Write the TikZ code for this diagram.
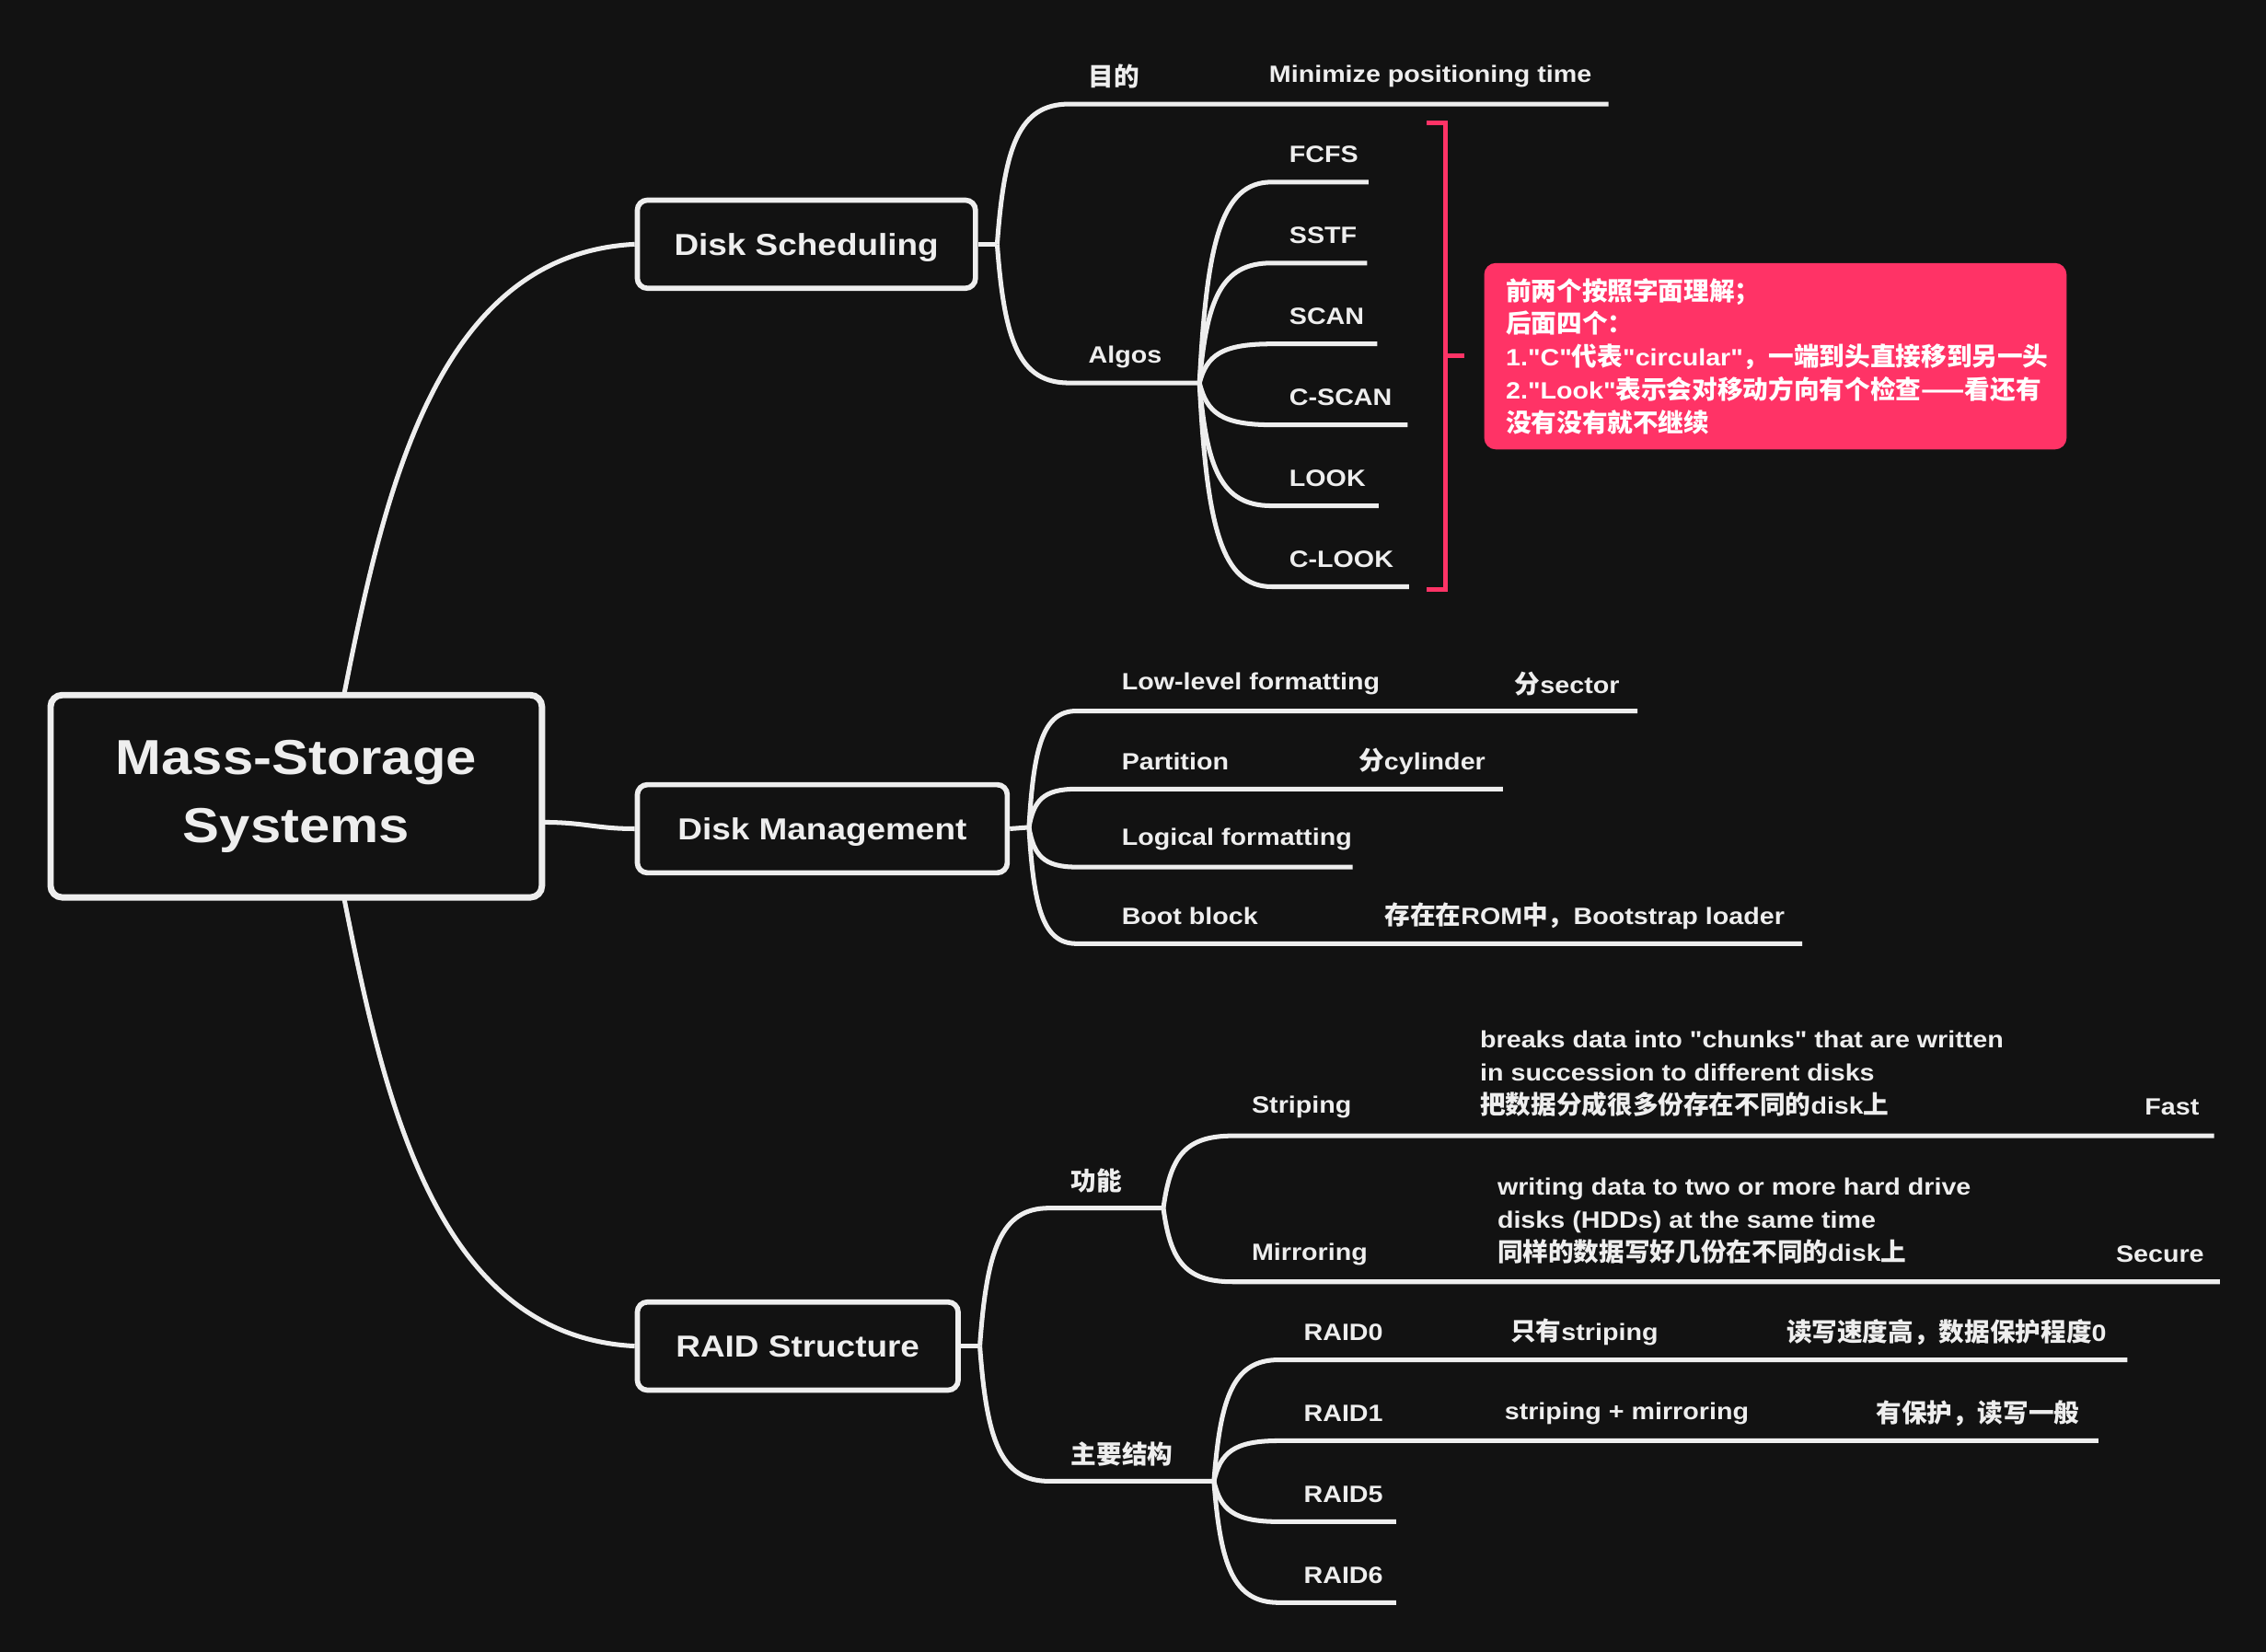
\documentclass[tikz,border=0pt]{standalone}
\usepackage{fontspec}
\setmainfont{Liberation Sans}[Ligatures=TeXOff, FakeStretch=1.12]
\newfontfamily\cjk{Noto Sans CJK SC}[Scale=1.08]
\usetikzlibrary{calc}
\definecolor{bg}{HTML}{121212}
\definecolor{lc}{HTML}{EEEEEE}
\definecolor{pk}{HTML}{FF3366}
\newcommand\zh[1]{{\cjk\bfseries #1}}
\newcommand\br[3]{\draw[conn] let \p1=(#1), \p2=(#2) in (\p1) .. controls ({\x1+0.1*(\x2-\x1)},{\y1+0.7*(\y2-\y1)}) and ({\x1+0.3*(\x2-\x1)},\y2) .. (\p2) -- (#3);}
\tikzset{
  conn/.style={draw=lc, line width=3.2pt},
  rootbox/.style={draw=lc, line width=4.4pt, rounded corners=8pt, fill=bg, text=lc, font=\bfseries\fontsize{34}{47}\selectfont, align=center, minimum width=340pt, minimum height=140pt, inner sep=0},
  topic/.style={draw=lc, line width=3.6pt, rounded corners=7pt, fill=bg, text=lc, font=\bfseries\fontsize{21}{26}\selectfont, inner sep=0, minimum height=61pt, text height=15pt, text depth=0pt},
  leaf/.style={text=lc, font=\bfseries\fontsize{16.3}{23}\selectfont, anchor=west, inner sep=0, align=left, yshift=-2pt},
  notebox/.style={fill=pk, rounded corners=8pt, text=white, font=\bfseries\fontsize{16.3}{22.8}\selectfont, align=left, text width=373pt, inner xsep=15pt, minimum height=129pt, inner ysep=0},
  brk/.style={draw=pk, line width=3pt}
}
\begin{document}
\begin{tikzpicture}[x=1pt,y=-1pt]
\fill[bg] (0,0) rectangle (1568,1143);
\useasboundingbox (0,0) rectangle (1568,1143);

% main topics
\node[rootbox] (root) at (205,551) {Mass-Storage\\Systems};
\node[topic, minimum width=234pt] (ds) at (558,169) {Disk Scheduling};
\node[topic, minimum width=256pt] (dm) at (569,573.5) {Disk Management};
\node[topic, minimum width=222pt] (rs) at (552,931.5) {RAID Structure};

\coordinate (rTop) at (238,481);
\coordinate (rBot) at (238,621);
\coordinate (rRight) at (375,569);
\draw[conn] (rTop) .. controls (266,340) and (302,176) .. (ds.west);
\draw[conn] (rBot) .. controls (266,762) and (302,924.5) .. (rs.west);
\draw[conn] (rRight) .. controls (405,569) and (412,573.5) .. (dm.west);

% Disk Scheduling
\coordinate (dsF) at (690,169);
\draw[conn] (ds.east) -- (dsF);
\coordinate (goalL) at (740,72); \coordinate (goalR) at (1113,72);
\coordinate (algL) at (740,265); \coordinate (algF) at (830,265);
\br{dsF}{goalL}{goalR}
\br{dsF}{algL}{algF}
\node[leaf] (goal) at (753,51) {\zh{目的}};
\node[leaf] (goaltxt) at (878,51) {Minimize positioning time};
\node[leaf] (algos) at (753,245) {Algos};

\coordinate (aL1) at (880,126); \coordinate (aR1) at (947,126);
\coordinate (aL2) at (880,182); \coordinate (aR2) at (946,182);
\coordinate (aL3) at (880,238); \coordinate (aR3) at (953,238);
\coordinate (aL4) at (880,294); \coordinate (aR4) at (974,294);
\coordinate (aL5) at (880,350); \coordinate (aR5) at (954,350);
\coordinate (aL6) at (880,406); \coordinate (aR6) at (975,406);
\br{algF}{aL1}{aR1}
\br{algF}{aL2}{aR2}
\br{algF}{aL3}{aR3}
\br{algF}{aL4}{aR4}
\br{algF}{aL5}{aR5}
\br{algF}{aL6}{aR6}
\node[leaf] (fcfs) at (892,105) {FCFS};
\node[leaf] (sstf) at (892,161) {SSTF};
\node[leaf] (scan) at (892,217) {SCAN};
\node[leaf] (cscan) at (892,273) {C-SCAN};
\node[leaf] (look) at (892,329) {LOOK};
\node[leaf] (clook) at (892,385) {C-LOOK};

% bracket and note
\draw[brk] (987,85) -- (1000,85) -- (1000,408) -- (987,408);
\draw[brk] (1000,246) -- (1013,246);
\node[notebox] (note) at (1228.5,246.5) {\zh{前两个按照字面理解；}\\\zh{后面四个：}\\1."C"\zh{代表}"circular"\zh{，一端到头直接移到另一头}\\2."Look"\zh{表示会对移动方向有个检查——看还有}\\\zh{没有没有就不继续}};

% Disk Management
\coordinate (dmF) at (712,572.5);
\draw[conn] (dm.east) -- (dmF);
\coordinate (mL1) at (745,492); \coordinate (mR1) at (1133,492);
\coordinate (mL2) at (745,546); \coordinate (mR2) at (1040,546);
\coordinate (mL3) at (745,600); \coordinate (mR3) at (936,600);
\coordinate (mL4) at (745,653); \coordinate (mR4) at (1247,653);
\br{dmF}{mL1}{mR1}
\br{dmF}{mL2}{mR2}
\br{dmF}{mL3}{mR3}
\br{dmF}{mL4}{mR4}
\node[leaf] (llf) at (776,471) {Low-level formatting};
\node[leaf] (llfn) at (1048,471) {\zh{分}sector};
\node[leaf] (part) at (776,525) {Partition};
\node[leaf] (partn) at (940,525) {\zh{分}cylinder};
\node[leaf] (logf) at (776,579) {Logical formatting};
\node[leaf] (boot) at (776,632) {Boot block};
\node[leaf] (bootn) at (958,632) {\zh{存在在}ROM\zh{中，}Bootstrap loader};

% RAID Structure
\coordinate (rsF) at (678,931.5);
\draw[conn] (rs.east) -- (rsF);
\coordinate (fnL) at (726,836); \coordinate (fnF) at (805,836);
\coordinate (zyL) at (726,1025); \coordinate (zyF) at (840,1025);
\br{rsF}{fnL}{fnF}
\br{rsF}{zyL}{zyF}
\node[leaf] (fn) at (741,815) {\zh{功能}};
\node[leaf] (zy) at (741,1004) {\zh{主要结构}};

\coordinate (sL) at (853,786); \coordinate (sR) at (1532,786);
\coordinate (mrL) at (853,887); \coordinate (mrR) at (1536,887);
\br{fnF}{sL}{sR}
\br{fnF}{mrL}{mrR}
\node[leaf] (strip) at (866,764) {Striping};
\node[leaf] (stripn) at (1024,741) {breaks data into "chunks" that are written\\in succession to different disks\\\zh{把数据分成很多份存在不同的}disk\zh{上}};
\node[leaf] (fast) at (1484,764) {Fast};
\node[leaf] (mirr) at (866,866) {Mirroring};
\node[leaf] (mirrn) at (1036,843) {writing data to two or more hard drive\\disks (HDDs) at the same time\\\zh{同样的数据写好几份在不同的}disk\zh{上}};
\node[leaf] (sec) at (1464,866) {Secure};

\coordinate (zL1) at (885,941); \coordinate (zR1) at (1472,941);
\coordinate (zL2) at (885,997); \coordinate (zR2) at (1452,997);
\coordinate (zL3) at (885,1053); \coordinate (zR3) at (966,1053);
\coordinate (zL4) at (885,1109); \coordinate (zR4) at (966,1109);
\br{zyF}{zL1}{zR1}
\br{zyF}{zL2}{zR2}
\br{zyF}{zL3}{zR3}
\br{zyF}{zL4}{zR4}
\node[leaf] (r0) at (902,920) {RAID0};
\node[leaf] (r0a) at (1045,920) {\zh{只有}striping};
\node[leaf] (r0b) at (1236,920) {\zh{读写速度高，数据保护程度}0};
\node[leaf] (r1) at (902,976) {RAID1};
\node[leaf] (r1a) at (1041,976) {striping + mirroring};
\node[leaf] (r1b) at (1298,976) {\zh{有保护，读写一般}};
\node[leaf] (r5) at (902,1032) {RAID5};
\node[leaf] (r6) at (902,1088) {RAID6};
\end{tikzpicture}
\end{document}
